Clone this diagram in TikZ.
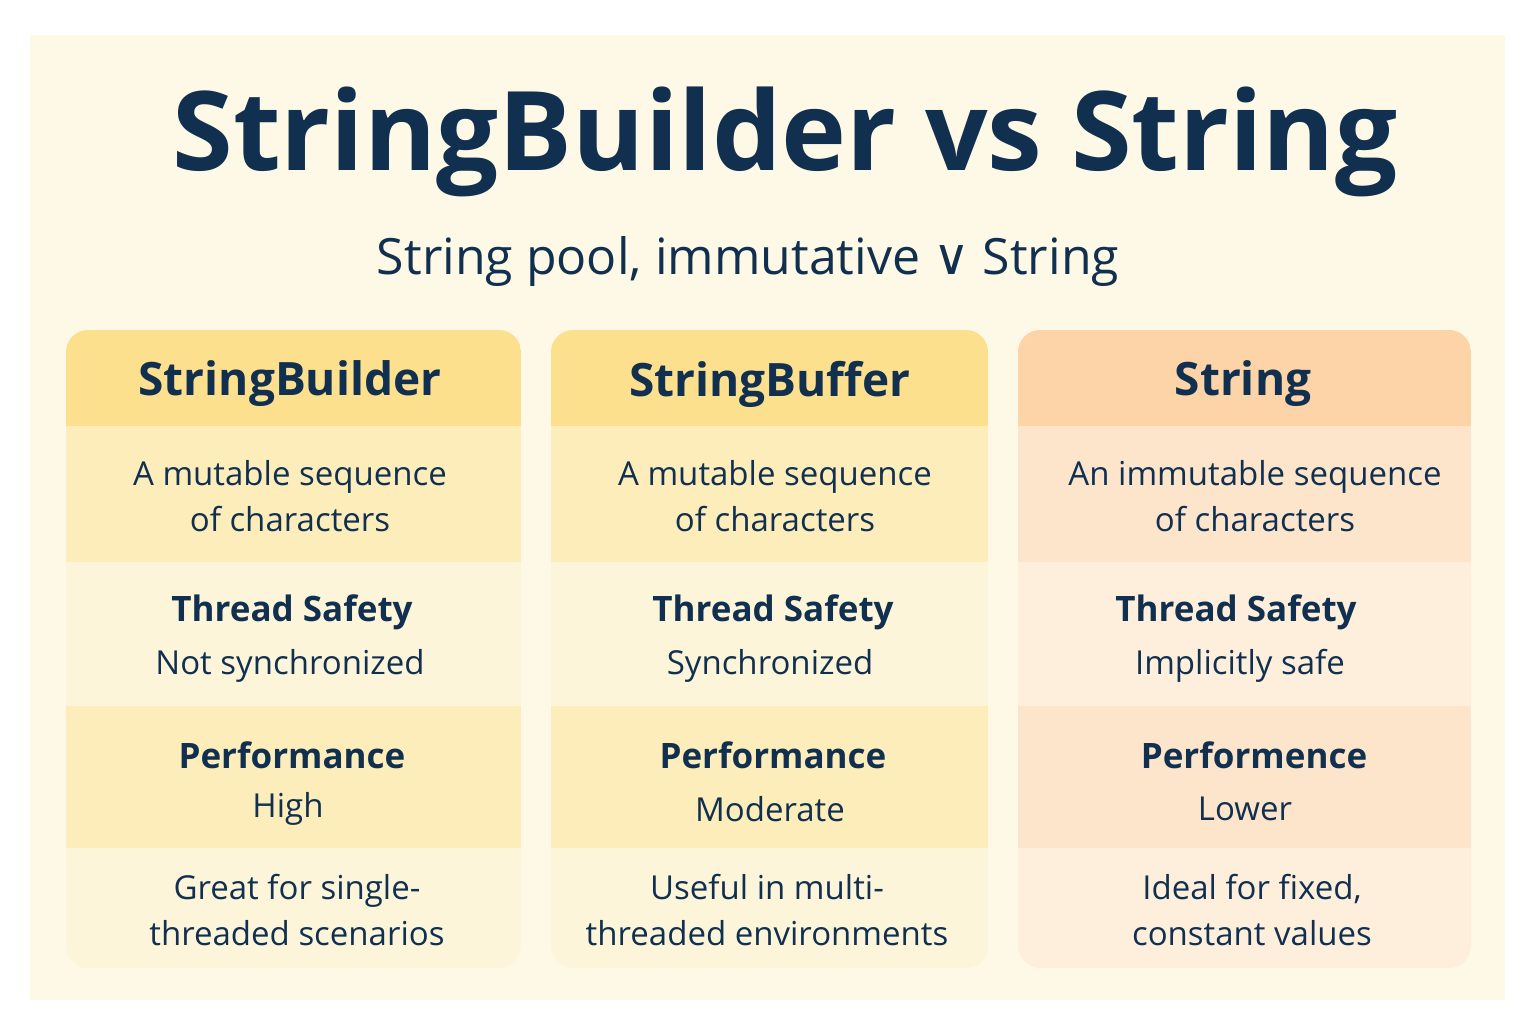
\documentclass[tikz,border=0pt]{standalone}
\usepackage{fontspec}
\setmainfont{Open Sans}
\newfontfamily\symf{DejaVu Sans}
\definecolor{navy}{HTML}{11304F}
\definecolor{panel}{HTML}{FEF9E6}
\definecolor{yh}{HTML}{FDE08E}
\definecolor{ya}{HTML}{FCEDBA}
\definecolor{yb}{HTML}{FDF5DA}
\definecolor{oh}{HTML}{FDD3A8}
\definecolor{oa}{HTML}{FDE5CC}
\definecolor{ob}{HTML}{FEEFDD}
\tikzset{
 hd/.style={font=\fontsize{46}{50}\selectfont\bfseries, text=navy},
 bd/.style={font=\fontsize{33}{46}\selectfont, text=navy, align=center},
 bb/.style={font=\fontsize{35}{48}\selectfont\bfseries, text=navy, align=center},
}
\begin{document}
\begin{tikzpicture}[x=1pt,y=-1pt]
\useasboundingbox (0,0) rectangle (1536,1024);
\fill[white] (0,0) rectangle (1536,1024);
\fill[panel] (30,35) rectangle (1505,1000);
\node[font=\fontsize{110}{130}\selectfont\bfseries, text=navy] (title) at (785,142) {StringBuilder vs String};
\node[font=\fontsize{50}{56}\selectfont, text=navy] (sub) at (748,262) {String pool, immutative {\symf ∨} String};
\foreach \xa/\xb/\h/\a/\b/\n in {66/521/yh/ya/yb/1,551/988/yh/ya/yb/2,1018/1471/oh/oa/ob/3}{
 \begin{scope}
 \clip[rounded corners=22] (\xa,330) rectangle (\xb,968);
 \fill[\h] (\xa,330) rectangle (\xb,426);
 \fill[\a] (\xa,426) rectangle (\xb,562);
 \fill[\b] (\xa,562) rectangle (\xb,706);
 \fill[\a] (\xa,706) rectangle (\xb,848);
 \fill[\b] (\xa,848) rectangle (\xb,968);
 \end{scope}
}
\node[hd] (h1) at (290,384) {StringBuilder};
\node[hd] (h2) at (770,384) {StringBuffer};
\node[hd] (h3) at (1243,384) {String};
\node[bd] (d1) at (290,496) {A mutable sequence\\of characters};
\node[bd] (d2) at (775,496) {A mutable sequence\\of characters};
\node[bd] (d3) at (1255,496) {An immutable sequence\\of characters};
\node[bb] (t1) at (292,612) {Thread Safety};
\node[bb] (t2) at (773,612) {Thread Safety};
\node[bb] (t3) at (1236,612) {Thread Safety};
\node[bd] (s1) at (290,666) {Not synchronized};
\node[bd] (s2) at (770,666) {Synchronized};
\node[bd] (s3) at (1240,666) {Implicitly safe};
\node[bb] (p1) at (292,755) {Performance};
\node[bb] (p2) at (773,755) {Performance};
\node[bb] (p3) at (1254,755) {Performence};
\node[bd] (v1) at (288,809) {High};
\node[bd] (v2) at (770,809) {Moderate};
\node[bd] (v3) at (1245,809) {Lower};
\node[bd] (u1) at (297,910) {Great for single-\\threaded scenarios};
\node[bd] (u2) at (767,910) {Useful in multi-\\threaded environments};
\node[bd] (u3) at (1252,910) {Ideal for fixed,\\constant values};
\end{tikzpicture}
\end{document}
